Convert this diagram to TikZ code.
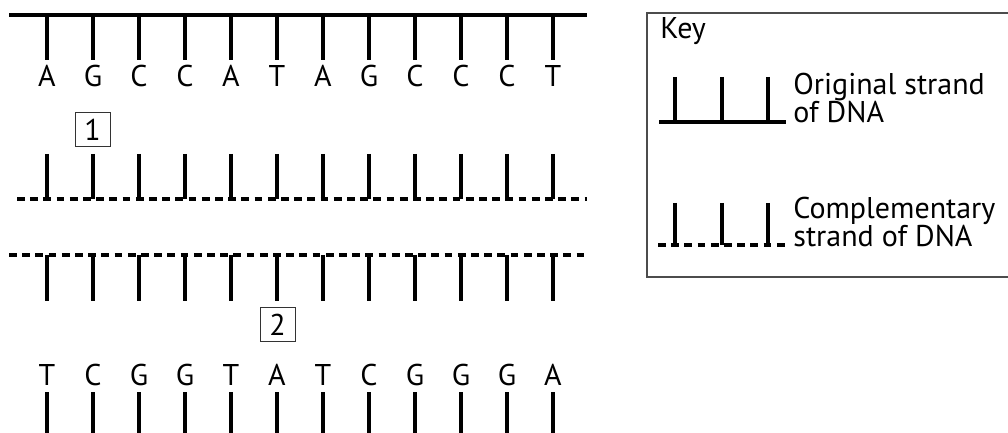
\documentclass[tikz,border=0pt]{standalone}
\usepackage{fontspec}
\setmainfont{PT Sans}
\begin{document}
\begin{tikzpicture}[x=0.5pt,y=-0.5pt,
  lab/.style={font=\fontsize{15}{17}\selectfont, inner sep=0pt, anchor=base},
  keytext/.style={font=\fontsize{15}{17}\selectfont, inner sep=0pt, anchor=base west},
  solidstrand/.style={line width=2pt},
  dashstrand/.style={line width=2pt, dash pattern=on 3.9pt off 2.7pt},
  basetick/.style={line width=2pt},
  numbox/.style={draw=black!80, line width=0.5pt, minimum width=17.5pt, minimum height=17pt, inner sep=0pt, font=\fontsize{15}{17}\selectfont},
  keybox/.style={draw=black!70, line width=0.6pt}]
\useasboundingbox (0,0) rectangle (1008,433);
% original strand (top)
\draw[solidstrand] (9,15) -- (587,15);
\foreach \b [count=\i from 0] in {A,G,C,C,A,T,A,G,C,C,C,T} {
  \draw[basetick] (47+46*\i,15) -- (47+46*\i,60);
  \node[lab] (top\i) at (47+46*\i,87) {\b};
}
% complementary strand 1
\draw[dashstrand] (17,199.5) -- (587,199.5);
\foreach \i in {0,...,11} {
  \draw[basetick] (47+46*\i,154) -- (47+46*\i,199.5);
}
% complementary strand 2
\draw[dashstrand] (9,255) -- (587,255);
\foreach \i in {0,...,11} {
  \draw[basetick] (47+46*\i,255) -- (47+46*\i,301);
}
% original strand (bottom)
\foreach \b [count=\i from 0] in {T,C,G,G,T,A,T,C,G,G,G,A} {
  \node[lab] (bot\i) at (47+46*\i,386) {\b};
  \draw[basetick] (47+46*\i,392) -- (47+46*\i,436);
}
% numbered boxes
\node[numbox] (n1) at (92.5,130) {1};
\node[numbox] (n2) at (277.5,324.5) {2};
% key
\draw[keybox] (647,13) rectangle (1012,277);
\node[keytext] (key) at (660,39) {Key};
\draw[solidstrand] (659,122) -- (786,122);
\foreach \x in {675,722,768} { \draw[basetick] (\x,77) -- (\x,122); }
\node[keytext] (orig1) at (793,95) {Original strand};
\node[keytext] (orig2) at (793,123) {of DNA};
\draw[dashstrand] (658,245) -- (786,245);
\foreach \x in {675,722,768} { \draw[basetick] (\x,203) -- (\x,245); }
\node[keytext] (comp1) at (793,219) {Complementary};
\node[keytext] (comp2) at (793,247) {strand of DNA};
\end{tikzpicture}
\end{document}
